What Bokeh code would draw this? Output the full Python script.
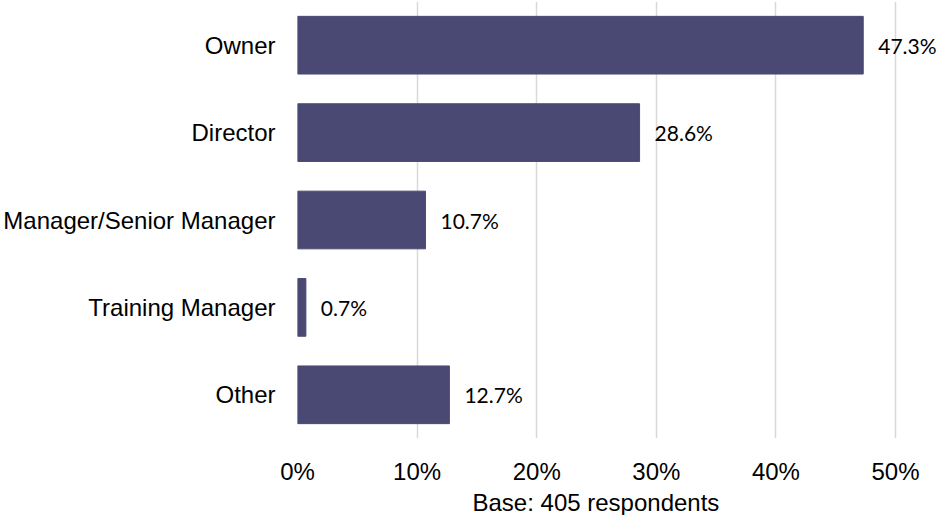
from bokeh.plotting import figure
from bokeh.models import ColumnDataSource, LabelSet, Title, NumeralTickFormatter, FixedTicker, Range1d, FactorRange
from bokeh.core.properties import value
from bokeh.embed import file_html
from bokeh.resources import INLINE

categories = ["Owner", "Director", "Manager/Senior Manager", "Training Manager", "Other"]
values = [0.473, 0.286, 0.107, 0.007, 0.127]
labels = ["47.3%", "28.6%", "10.7%", "0.7%", "12.7%"]
x_ticks = [0, 0.1, 0.2, 0.3, 0.4, 0.5]
axis_title = "Base: 405 respondents"

BAR = "#4A4974"
src = ColumnDataSource(dict(cat=categories, val=values, lab=labels))

p = figure(width=937, height=515,
           y_range=FactorRange(factors=categories[::-1]),
           x_range=Range1d(0, 0.5351),
           output_backend="svg", toolbar_location=None,
           min_border_left=297, min_border_right=0,
           min_border_top=1, min_border_bottom=77)
p.outline_line_color = None
p.background_fill_color = "white"
p.border_fill_color = "white"

p.hbar(y="cat", left=0, right="val", height=0.66, source=src,
       fill_color=BAR, line_color=BAR)

lbl = LabelSet(x="val", y="cat", text="lab", source=src, x_offset=15,
               text_baseline="middle", text_align="left",
               text_font=value("Lato"), text_font_size="21px", text_color="#000000")
p.add_layout(lbl)

ticker = FixedTicker(ticks=x_ticks)
xa = p.xaxis[0]
xa.ticker = ticker
xa.formatter = NumeralTickFormatter(format="0%")
xa.axis_line_color = None
xa.major_tick_line_color = None
xa.minor_tick_line_color = None
xa.major_label_text_font = "Liberation Sans"
xa.major_label_text_font_size = "24px"
xa.major_label_text_color = "#000000"
xa.major_label_standoff = 13

base_title = Title(text=axis_title, align="left", offset=175, standoff=-2,
                   text_font="Liberation Sans", text_font_size="24px",
                   text_font_style="normal", text_color="#000000")
p.add_layout(base_title, "below")

ya = p.yaxis[0]
ya.axis_line_color = None
ya.major_tick_line_color = None
ya.minor_tick_line_color = None
ya.major_label_text_font = "Liberation Sans"
ya.major_label_text_font_size = "24px"
ya.major_label_text_color = "#000000"
ya.major_label_standoff = 16

p.xgrid.ticker = ticker
p.xgrid.grid_line_color = "#D9D9D9"
p.xgrid.grid_line_width = 1.5
p.ygrid.grid_line_color = None

open("out.html", "w").write(file_html(p, INLINE))
